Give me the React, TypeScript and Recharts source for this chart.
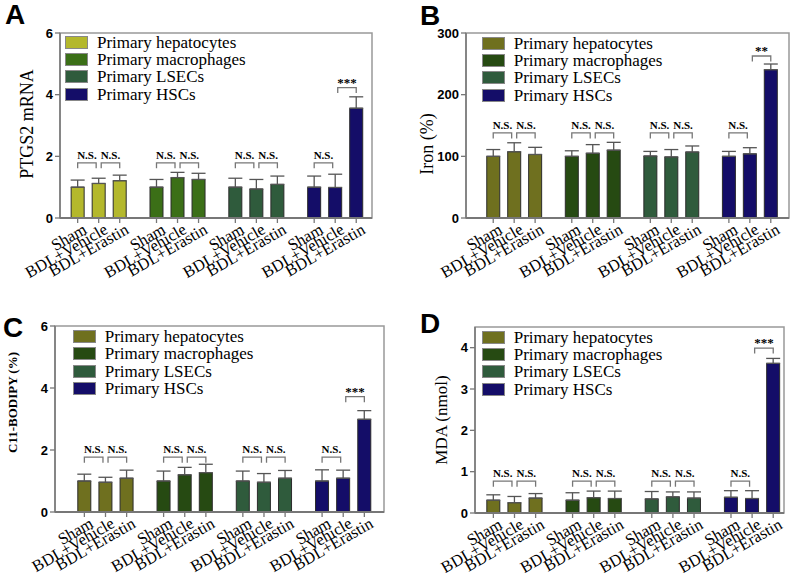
import React from 'react';
import { BarChart, Bar, Cell, ErrorBar, XAxis, YAxis, ReferenceLine, ReferenceArea } from 'recharts';

const groups = ['Sham', 'BDL+Vehicle', 'BDL+Erastin'];
const cellTypes = ['Primary hepatocytes', 'Primary macrophages', 'Primary LSECs', 'Primary HSCs'];

// means and upper SD, order: hepatocytes, macrophages, LSECs, HSCs x (Sham, Vehicle, Erastin)
const ptgs2Mean = [1.0, 1.12, 1.21, 1.0, 1.31, 1.25, 1.0, 0.94, 1.09, 1.0, 0.99, 3.56];
const ptgs2Err = [0.23, 0.17, 0.18, 0.25, 0.17, 0.2, 0.29, 0.31, 0.27, 0.36, 0.43, 0.37];

const ironMean = [100, 107.5, 103, 100, 105, 110, 100.5, 99, 107, 100, 104, 240.5];
const ironErr = [11, 14.5, 11.6, 9, 14, 12.7, 7.5, 12, 9.8, 8, 10, 9.2];

const bodipyMean = [1.0, 0.96, 1.09, 1.0, 1.2, 1.27, 1.0, 0.96, 1.09, 1.0, 1.09, 2.99];
const bodipyErr = [0.22, 0.16, 0.26, 0.32, 0.24, 0.27, 0.32, 0.28, 0.25, 0.36, 0.26, 0.28];

const mdaMean = [0.31, 0.25, 0.36, 0.31, 0.37, 0.35, 0.34, 0.39, 0.36, 0.38, 0.35, 3.62];
const mdaErr = [0.13, 0.15, 0.11, 0.18, 0.16, 0.18, 0.18, 0.12, 0.15, 0.16, 0.19, 0.12];

// significance per cell type: [Sham vs Vehicle, Vehicle vs Erastin]
const sigA = ['N.S.', 'N.S.', 'N.S.', 'N.S.', 'N.S.', 'N.S.', 'N.S.', '***'];
const sigB = ['N.S.', 'N.S.', 'N.S.', 'N.S.', 'N.S.', 'N.S.', 'N.S.', '**'];
const sigC = ['N.S.', 'N.S.', 'N.S.', 'N.S.', 'N.S.', 'N.S.', 'N.S.', '***'];
const sigD = ['N.S.', 'N.S.', 'N.S.', 'N.S.', 'N.S.', 'N.S.', 'N.S.', '***'];

const colorsA = ['#b4b82c', '#3b6f17', '#2f5b3c', '#140d68'];
const colorsBCD = ['#6f701f', '#264a12', '#2f5b3c', '#140d68'];

const SERIF = '"Liberation Serif", "Times New Roman", serif';
const SANS = '"Liberation Sans", Arial, sans-serif';
const AXIS = '#777';

// bar slot on the numeric x axis: 3 bars per cell type, wider gap between types
const slot = (g: number, i: number) => g * 3.75 + i;

const XTick = (p: any) => {
  const { x, y, index } = p;
  return (
    <text
      x={x}
      y={y}
      dx={5}
      dy="0.7em"
      transform={`rotate(-30, ${x}, ${y})`}
      textAnchor="end"
      fontFamily={SERIF}
      fontSize={16.5}
      fill="#000"
    >
      {groups[index % 3]}
    </text>
  );
};

const Bracket = (p: any) => {
  const { x1, y1, x2, y2 } = p;
  return (
    <path d={`M${x1},${y1 + 5.5}V${y1}H${x2}V${y2 + 5.5}`} stroke={AXIS} strokeWidth={1.3} fill="none" />
  );
};

function LegendBox({ colors, left, top }: { colors: string[]; left: number; top: number }) {
  return (
    <div style={{ position: 'absolute', left, top, fontFamily: SERIF, fontSize: 17, color: '#000' }}>
      {cellTypes.map((t, i) => (
        <div key={t} style={{ display: 'flex', alignItems: 'center', height: 17.3, whiteSpace: 'nowrap' }}>
          <span
            style={{
              width: 21,
              height: 11,
              background: colors[i],
              border: '1px solid #888',
              marginRight: 9,
              flexShrink: 0,
            }}
          />
          <span style={{ lineHeight: 1 }}>{t}</span>
        </div>
      ))}
    </div>
  );
}

type PanelProps = {
  left: number;
  top: number;
  width: number;
  height: number;
  margin: { top: number; right: number; bottom: number; left: number };
  yWidth: number;
  xHeight: number;
  xDomain: [number, number];
  yMax: number;
  yTicks: number[];
  means: number[];
  errs: number[];
  sig: string[];
  nsLevel: number;
  starLevel: number;
  colors: string[];
  title: string;
  titleBold?: boolean;
  titleSize: number;
  titleX: number;
  titleY: number;
  legendLeft: number;
  legendTop: number;
};

function Panel(p: PanelProps) {
  const rows = p.means.map((m, i) => ({
    x: slot(Math.floor(i / 3), i % 3),
    mean: m,
    err: p.errs[i],
    color: p.colors[Math.floor(i / 3)],
  }));
  const xTicks = rows.map((r) => r.x);
  const brackets = p.sig.map((s, k) => {
    const g = Math.floor(k / 2);
    const c = k % 2;
    const star = s !== 'N.S.';
    return {
      key: k,
      text: s,
      x1: slot(g, c) + (c === 1 ? 0.12 : 0),
      x2: slot(g, c + 1) - (c === 0 ? 0.12 : 0),
      y: star ? p.starLevel : p.nsLevel,
      star,
    };
  });

  return (
    <div style={{ position: 'absolute', left: p.left, top: p.top, width: p.width, height: p.height }}>
      <BarChart width={p.width} height={p.height} data={rows} margin={p.margin}>
        <ReferenceArea
          x1={p.xDomain[0]}
          x2={p.xDomain[1]}
          y1={0}
          y2={p.yMax}
          fill="none"
          stroke="#999"
          strokeWidth={1.5}
          ifOverflow="visible"
        />
        <XAxis
          type="number"
          dataKey="x"
          domain={p.xDomain}
          allowDataOverflow
          ticks={xTicks}
          interval={0}
          height={p.xHeight}
          tick={<XTick />}
          tickSize={5}
          tickMargin={2}
          axisLine={{ stroke: AXIS, strokeWidth: 2 }}
          tickLine={{ stroke: AXIS, strokeWidth: 1.3 }}
        />
        <YAxis
          domain={[0, p.yMax]}
          ticks={p.yTicks}
          allowDataOverflow
          width={p.yWidth}
          tickSize={5}
          tickMargin={2}
          axisLine={{ stroke: AXIS, strokeWidth: 1.5 }}
          tickLine={{ stroke: AXIS, strokeWidth: 1.3 }}
          tick={{ fontFamily: SANS, fontWeight: 'bold', fontSize: 13, fill: '#000' }}
          label={{
            content: () => (
              <text
                transform={`translate(${p.titleX}, ${p.titleY}) rotate(-90)`}
                textAnchor="middle"
                dominantBaseline="central"
                fontFamily={SERIF}
                fontWeight={p.titleBold ? 'bold' : 'normal'}
                fontSize={p.titleSize}
                fill="#000"
              >
                {p.title}
              </text>
            ),
          }}
        />
        <Bar dataKey="mean" barSize={13} stroke="#2b2b2b" strokeWidth={1} isAnimationActive={false}>
          {rows.map((r) => (
            <Cell key={r.x} fill={r.color} />
          ))}
          <ErrorBar
            dataKey={(d: any) => [0, d.err]}
            direction="y"
            width={7}
            stroke="#555"
            strokeWidth={1.3}
            isAnimationActive={false}
          />
        </Bar>
        {brackets.map((b) => (
          <ReferenceLine
            key={b.key}
            segment={[
              { x: b.x1, y: b.y },
              { x: b.x2, y: b.y },
            ]}
            ifOverflow="visible"
            shape={<Bracket />}
            label={{
              value: b.text,
              position: 'top',
              offset: b.star ? 1 : 4,
              fill: '#000',
              fontFamily: SERIF,
              fontWeight: 'bold',
              fontSize: b.star ? 13 : 11,
            }}
          />
        ))}
      </BarChart>
      <LegendBox colors={p.colors} left={p.legendLeft} top={p.legendTop} />
    </div>
  );
}

const letterStyle = { fontFamily: SANS, fontWeight: 'bold' as const, fontSize: 28, fill: '#000' };

export default function App() {
  return (
    <div style={{ position: 'absolute', left: 0, top: 0, width: 794, height: 573, background: '#fff', overflow: 'hidden' }}>
      <Panel
        left={0}
        top={0}
        width={397}
        height={290}
        margin={{ top: 33, right: 25, bottom: 0, left: 0 }}
        yWidth={60}
        xHeight={72}
        xDomain={[-0.84, 14.0]}
        yMax={6}
        yTicks={[0, 2, 4, 6]}
        means={ptgs2Mean}
        errs={ptgs2Err}
        sig={sigA}
        nsLevel={1.79}
        starLevel={4.23}
        colors={colorsA}
        title="PTGS2 mRNA"
        titleSize={18}
        titleX={26.7}
        titleY={124}
        legendLeft={65}
        legendTop={33.7}
      />
      <Panel
        left={400}
        top={0}
        width={394}
        height={290}
        margin={{ top: 33, right: 5, bottom: 0, left: 0 }}
        yWidth={66}
        xHeight={72}
        xDomain={[-1.3, 14.12]}
        yMax={300}
        yTicks={[0, 100, 200, 300]}
        means={ironMean}
        errs={ironErr}
        sig={sigB}
        nsLevel={138}
        starLevel={262.7}
        colors={colorsBCD}
        title="Iron (%)"
        titleSize={18}
        titleX={26.7}
        titleY={144}
        legendLeft={81.7}
        legendTop={34.7}
      />
      <Panel
        left={0}
        top={295}
        width={397}
        height={278}
        margin={{ top: 31, right: 13, bottom: 0, left: 0 }}
        yWidth={55}
        xHeight={61}
        xDomain={[-1.39, 14.18]}
        yMax={6}
        yTicks={[0, 2, 4, 6]}
        means={bodipyMean}
        errs={bodipyErr}
        sig={sigC}
        nsLevel={1.77}
        starLevel={3.72}
        colors={colorsBCD}
        title="C11-BODIPY (%)"
        titleBold
        titleSize={13}
        titleX={12.5}
        titleY={107.5}
        legendLeft={72.7}
        legendTop={33}
      />
      <Panel
        left={400}
        top={295}
        width={394}
        height={278}
        margin={{ top: 32, right: 10, bottom: 0, left: 0 }}
        yWidth={75}
        xHeight={60}
        xDomain={[-0.87, 13.76]}
        yMax={4.5}
        yTicks={[0, 1, 2, 3, 4]}
        means={mdaMean}
        errs={mdaErr}
        sig={sigD}
        nsLevel={0.77}
        starLevel={3.99}
        colors={colorsBCD}
        title="MDA (nmol)"
        titleSize={17}
        titleX={41.7}
        titleY={125}
        legendLeft={81.7}
        legendTop={33.7}
      />
      <svg width={794} height={573} style={{ position: 'absolute', left: 0, top: 0, pointerEvents: 'none' }}>
        <text x={5} y={24} {...letterStyle}>A</text>
        <text x={420} y={25} {...letterStyle}>B</text>
        <text x={3} y={337} {...letterStyle}>C</text>
        <text x={420} y={333} {...letterStyle}>D</text>
      </svg>
    </div>
  );
}
